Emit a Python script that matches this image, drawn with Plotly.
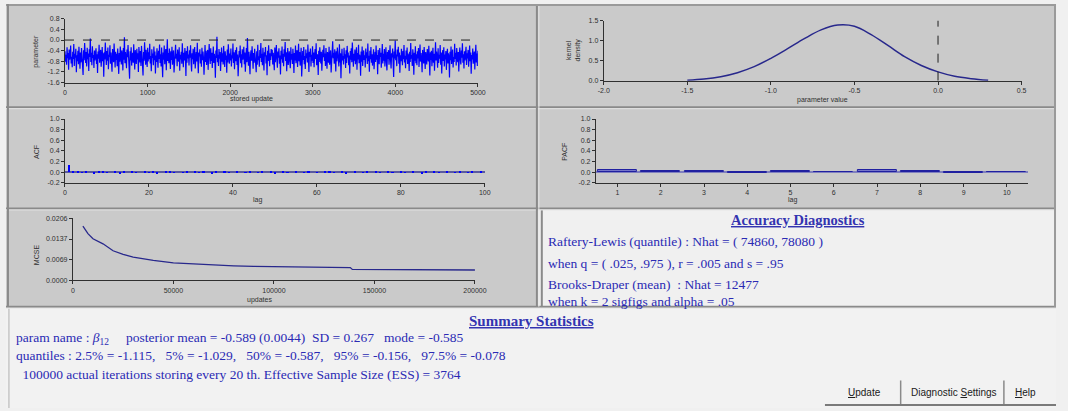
import plotly.graph_objects as go

W, H = 1068, 411

# ---------------- data ----------------
trace_values = [
 -0.42,-0.81,-0.55,-0.93,-0.27,-0.68,-0.49,-1.12,-0.36,-0.74,-0.58,-0.21,-0.88,-0.63,-1.02,-0.44,-0.71,-0.15,-0.97,-0.52,
 -0.66,-0.33,-1.21,-0.57,-0.79,-0.40,-0.91,-0.25,-0.62,-1.08,-0.47,-0.84,-0.30,-0.69,-0.54,-1.31,-0.38,-0.76,-0.11,-0.60,
 -0.86,-0.45,-0.99,-0.29,-0.72,-0.51,-1.16,-0.35,-0.64,0.06,-0.82,-0.48,-0.95,-0.23,-0.67,-0.56,-1.05,-0.39,-0.77,-0.61,
 -0.31,-0.90,-0.53,-1.24,-0.43,-0.70,-0.18,-0.85,-0.59,-0.37,-1.00,-0.65,-0.26,-0.80,-0.50,-1.38,-0.46,-0.73,-0.09,-0.57,
 -0.94,-0.41,-0.78,-0.28,-1.10,-0.55,-0.63,-0.20,-0.89,-0.47,-0.71,-1.19,-0.34,-0.60,-0.83,-0.13,-0.66,-1.03,-0.44,-0.75,
 -0.52,-0.98,-0.32,-0.68,-1.27,-0.49,-0.81,-0.24,-0.62,-0.92,-0.39,-0.58,-1.14,-0.30,-0.74,0.10,-0.87,-0.45,-0.69,-1.06,
 -0.36,-0.64,-0.19,-0.83,-0.54,-1.45,-0.42,-0.77,-0.27,-0.96,-0.61,-0.48,-0.85,-0.16,-0.70,-1.11,-0.38,-0.59,-0.90,-0.33,
 -0.73,-0.50,-1.20,-0.26,-0.66,-0.84,-0.41,-0.97,-0.22,-0.63,-0.55,-1.33,-0.45,-0.78,-0.08,-0.69,-0.93,-0.37,-0.57,-1.01,
 -0.29,-0.80,-0.46,-0.72,-0.14,-0.88,-0.60,-1.17,-0.35,-0.67,-0.51,-0.95,-0.24,-0.76,-0.43,-1.26,-0.58,-0.82,-0.31,-0.65,
 -1.04,-0.40,-0.71,-0.17,-0.86,-0.53,-0.99,-0.28,-0.62,-1.40,-0.47,-0.74,-0.21,-0.91,-0.56,-0.34,-1.13,-0.68,0.03,-0.79,
 -0.49,-0.87,-0.32,-0.64,-1.09,-0.42,-0.75,-0.25,-0.93,-0.58,-0.39,-1.22,-0.61,-0.83,-0.18,-0.70,-0.52,-0.98,-0.36,-0.67,
 -0.81,-0.27,-1.15,-0.55,-0.73,-0.44,-0.89,-0.12,-0.63,-1.02,-0.48,-0.77,-0.30,-0.60,-1.35,-0.41,-0.85,-0.23,-0.69,-0.54,
 -0.96,-0.38,-0.66,-0.20,-0.84,-1.18,-0.50,-0.72,-0.33,-0.91,-0.57,-0.26,-1.07,-0.64,-0.45,-0.80,-0.10,-0.74,-1.25,-0.47,
 -0.62,-0.35,-0.88,-0.53,-1.00,-0.29,-0.76,-0.43,-0.68,-1.30,-0.56,-0.19,-0.82,-0.40,-0.94,-0.61,-0.37,-1.12,-0.71,-0.15,
 -0.58,-0.90,-0.31,-0.79,-0.48,-1.05,-0.65,-0.24,-0.86,-0.52,-0.73,-1.42,-0.39,-0.67,0.12,-0.83,-0.55,-0.97,-0.34,-0.70,
 -0.45,-1.16,-0.60,-0.28,-0.81,-0.50,-0.92,-0.22,-0.66,-1.01,-0.42,-0.75,-0.58,-1.23,-0.36,-0.84,-0.16,-0.63,-0.89,-0.51,
 -0.77,-0.32,-0.99,-0.57,-0.69,-0.13,-0.86,-0.46,-1.10,-0.61,-0.38,-0.80,-0.27,-0.94,-0.54,-1.36,-0.72,-0.41,-0.65,-0.21,
 -0.87,-0.53,-1.03,-0.35,-0.74,-0.60,-0.25,-0.91,-0.47,-1.19,-0.68,-0.30,-0.83,0.08,-0.59,-0.96,-0.44,-0.71,-1.28,-0.56,
 -0.39,-0.78,-0.23,-0.64,-1.08,-0.49,-0.85,-0.33,-0.70,-0.55,-1.21,-0.42,-0.93,-0.18,-0.76,-0.61,-1.00,-0.37,-0.67,-0.11,
 -0.82,-0.52,-0.95,-0.29,-0.73,-1.14,-0.46,-0.62,-0.26,-0.88,-0.57,-1.32,-0.40,-0.79,-0.20,-0.69,-0.98,-0.50,-0.75,-0.34,
 -0.61,-0.37,-0.92,-0.48,-0.70,-1.13,-0.28,-0.83,-0.55,-0.19,-0.76,-1.04,-0.43,-0.66,-0.31,-0.89,-0.58,-1.29,-0.40,-0.72,
 -0.24,-0.85,-0.52,-0.98,-0.35,-0.63,-0.07,-0.79,-0.46,-1.17,-0.59,-0.30,-0.94,-0.68,-0.42,-0.81,-1.06,-0.27,-0.74,-0.53,
 -0.90,-0.33,-0.65,-1.24,-0.49,-0.77,-0.21,-0.87,-0.56,-0.38,-1.01,-0.62,-0.14,-0.80,-0.45,-0.96,-0.69,-0.29,-1.37,-0.57,
 -0.41,-0.75,-0.26,-0.91,-0.60,-1.09,-0.36,-0.68,-0.50,-0.84,-0.17,-0.73,-1.20,-0.44,-0.63,-0.32,-0.99,-0.55,-0.78,-0.23,
 -0.86,-0.47,-1.02,-0.58,-0.34,-0.71,-0.12,-0.95,-0.53,-0.67,-1.31,-0.40,-0.82,-0.27,-0.61,-0.88,-0.44,-1.15,-0.70,-0.37,
 -0.64,-0.20,-0.79,-0.51,-0.97,-0.30,-0.72,-1.08,-0.45,-0.59,-0.85,-0.25,-0.93,-0.62,-0.39,-1.22,-0.54,-0.76,-0.05,-0.68,
 -0.48,-0.89,-0.35,-0.63,-1.18,-0.42,-0.80,-0.28,-0.71,-0.57,-0.99,-0.16,-0.84,-0.50,-1.43,-0.66,-0.33,-0.77,-0.60,-0.92,
 -0.29,-0.70,-0.53,-1.05,-0.38,-0.86,-0.22,-0.65,-0.47,-0.95,-0.58,-1.26,-0.41,-0.74,-0.31,-0.83,-0.09,-0.69,-1.00,-0.52,
 -0.78,-0.36,-0.91,-0.60,-0.27,-1.12,-0.49,-0.73,-0.18,-0.87,-0.55,-0.64,-1.34,-0.43,-0.81,-0.24,-0.97,-0.62,-0.39,-0.75,
 -0.57,-1.03,-0.32,-0.68,-0.46,-0.90,-0.13,-0.79,-0.59,-1.19,-0.40,-0.72,-0.26,-0.85,-0.53,-0.96,-0.66,-0.35,-1.10,-0.61,
 -0.44,-0.82,-0.21,-0.74,-0.56,-1.28,-0.37,-0.67,-0.91,-0.30,-0.63,-0.48,-1.04,-0.70,-0.15,-0.88,-0.52,-0.78,-0.34,-0.99,
 -0.60,-0.27,-0.84,-1.14,-0.45,-0.71,-0.38,-0.93,-0.58,-0.20,-0.77,-1.07,-0.50,-0.65,-0.32,-0.86,-1.39,-0.43,-0.69,-0.02,
 -0.76,-0.54,-0.98,-0.36,-0.62,-0.25,-0.89,-0.47,-1.23,-0.57,-0.80,-0.33,-0.67,-0.95,-0.41,-0.72,-0.19,-0.84,-0.59,-1.06,
 -0.39,-0.73,-0.28,-0.90,-0.51,-0.64,-1.16,-0.44,-0.82,-0.11,-0.70,-0.56,-0.97,-0.35,-0.61,-1.30,-0.48,-0.78,-0.23,-0.87,
 -0.53,-0.95,-0.42,-0.69,-0.30,-1.01,-0.62,-0.17,-0.81,-0.49,-0.74,-1.21,-0.37,-0.66,-0.88,-0.26,-0.58,-1.09,-0.45,-0.71,
 -0.92,-0.34,-0.63,-0.80,-0.22,-0.57,-1.33,-0.46,-0.75,-0.40,-0.98,-0.60,-0.29,-0.85,-0.52,-1.15,-0.68,-0.08,-0.77,-0.43,
 -0.65,-1.04,-0.31,-0.86,-0.55,-0.70,-0.19,-0.93,-0.47,-1.26,-0.61,-0.38,-0.79,-0.27,-0.99,-0.54,-0.73,-0.41,-1.12,-0.58,
 -0.33,-0.88,-0.50,-0.67,-1.41,-0.44,-0.76,-0.24,-0.90,-0.59,-0.36,-1.03,-0.64,-0.82,-0.14,-0.71,-0.48,-0.96,-0.30,-0.62,
 -0.83,-0.45,-1.18,-0.57,-0.28,-0.74,-0.92,-0.39,-0.66,-0.12,-0.85,-0.53,-1.07,-0.42,-0.77,-0.60,-0.25,-0.94,-0.50,-0.69,
 -0.37,-1.00,-0.63,-0.21,-0.80,-0.47,-1.27,-0.56,-0.73,-0.32,-0.89,-0.65,-0.43,-1.11,-0.58,-0.18,-0.84,-0.51,-0.97,-0.40,
]
stored_updates_total = 5000
trace_ref_line = 0.0

density_x = [-1.5,-1.4,-1.3,-1.2,-1.1,-1.0,-0.9,-0.8,-0.7,-0.6,-0.5,-0.4,-0.3,-0.2,-0.1,0.0,0.1,0.2,0.3]
density_y = [0.01,0.04,0.10,0.20,0.35,0.56,0.80,1.05,1.27,1.39,1.36,1.15,0.88,0.60,0.38,0.22,0.11,0.05,0.01]
density_ref_line = 0.0

acf_lags = list(range(1, 101))
acf_values = [
 0.13,0.03,0.01,-0.01,0.02,0.00,-0.02,0.01,0.02,-0.01,0.00,0.01,-0.02,0.01,0.00,0.02,-0.01,0.00,0.01,-0.01,
 0.01,-0.02,0.00,0.01,0.02,-0.01,0.00,-0.01,0.01,0.00,0.02,-0.01,0.01,0.00,-0.02,0.01,0.00,0.01,-0.01,0.00,
 0.01,0.00,-0.01,0.02,0.00,-0.01,0.01,0.00,0.01,-0.02,0.00,0.01,-0.01,0.00,0.02,0.00,-0.01,0.01,0.00,-0.01,
 0.00,0.01,0.02,-0.01,0.00,0.01,-0.02,0.00,0.01,0.00,-0.01,0.01,0.00,0.02,-0.01,0.00,0.01,-0.01,0.00,0.01,
 -0.01,0.00,0.01,0.00,-0.02,0.01,0.00,0.01,-0.01,0.00,0.02,0.00,-0.01,0.01,0.00,-0.01,0.01,0.00,0.01,0.00,
]

pacf_lags = [1,2,3,4,5,6,7,8,9,10]
pacf_values = [0.05,0.02,0.02,-0.01,0.02,0.00,0.04,0.02,-0.01,0.01]

mcse_updates = [5000,7500,10000,15000,20000,25000,30000,40000,50000,60000,70000,80000,90000,100000,120000,138000,139000,160000,180000,200000]
mcse_values = [0.0180,0.0155,0.0138,0.0121,0.0098,0.0086,0.0077,0.0066,0.0058,0.0054,0.0051,0.0048,0.0046,0.0045,0.0043,0.0042,0.0036,0.0035,0.0035,0.0034]

trace_yticks = [0.8,0.4,0.0,-0.4,-0.8,-1.2,-1.6]
trace_xticks = [0,1000,2000,3000,4000,5000]
dens_xticks = [-2.0,-1.5,-1.0,-0.5,0.0,0.5]
dens_yticks = [0.0,0.5,1.0,1.5]
acf_yticks = [1.0,0.8,0.6,0.4,0.2,0.0,-0.2]
acf_xticks = [0,20,40,60,80,100]
mcse_xticks = [0,50000,100000,150000,200000]
mcse_yticks = [0.0,0.0069,0.0137,0.0206]
mcse_yticklabels = ["0.0000","0.0069","0.0137","0.0206"]

accuracy_lines = [
 "Raftery-Lewis (quantile) : Nhat = ( 74860, 78080 )",
 "when q = ( .025, .975 ), r = .005 and s = .95",
 "Brooks-Draper (mean)  : Nhat = 12477",
 "when k = 2 sigfigs and alpha = .05",
]
summary_lines = [
 "param name : <i>β</i><sub>12</sub>     posterior mean = -0.589 (0.0044)  SD = 0.267   mode = -0.585",
 "quantiles : 2.5% = -1.115,   5% = -1.029,   50% = -0.587,   95% = -0.156,   97.5% = -0.078",
 " 100000 actual iterations storing every 20 th. Effective Sample Size (ESS) = 3764",
]
buttons = ["<u>U</u>pdate", "Diagnostic <u>S</u>ettings", "<u>H</u>elp"]

# ---------------- helpers ----------------
def px(x):
    return x / W

def py(y):
    return 1 - y / H

n = len(trace_values)
trace_x = [i * stored_updates_total / (n - 1) for i in range(n)]

BLUE = "#0000ff"
AX = "#303030"
tickfont = dict(family="Liberation Sans", size=7, color="#303030")

def axis(domain, rng, tickvals, ticktext=None, anchor=None, zeroline=False):
    d = dict(domain=domain, range=rng, tickvals=tickvals, showgrid=False,
             showline=True, linecolor=AX, linewidth=1, ticks="outside",
             ticklen=3, tickcolor=AX, tickfont=tickfont, zeroline=zeroline,
             anchor=anchor, fixedrange=True)
    if ticktext is not None:
        d["ticktext"] = ticktext
    return d

fig = go.Figure()

fig.add_trace(go.Scatter(x=trace_x, y=trace_values, mode="lines",
                         line=dict(color=BLUE, width=1.2), xaxis="x", yaxis="y"))
fig.add_trace(go.Scatter(x=density_x, y=density_y, mode="lines", line_shape="spline",
                         line=dict(color="#28288c", width=1.5), xaxis="x2", yaxis="y2"))
fig.add_trace(go.Bar(x=acf_lags, y=acf_values, width=0.5, marker_color=BLUE,
                     marker_line_width=0, xaxis="x3", yaxis="y3"))
fig.add_trace(go.Bar(x=pacf_lags, y=pacf_values, width=0.9,
                     marker=dict(color="rgba(60,60,200,0.6)", line=dict(color="#2020a0", width=1)),
                     xaxis="x4", yaxis="y4"))
fig.add_trace(go.Scatter(x=mcse_updates, y=mcse_values, mode="lines",
                         line=dict(color="#28288c", width=1.3), xaxis="x5", yaxis="y5"))

layout = dict(
    autosize=True, margin=dict(l=0, r=0, t=0, b=0),
    paper_bgcolor="#f0f0f0", plot_bgcolor="rgba(0,0,0,0)", showlegend=False,
    bargap=0,
    xaxis=axis([px(60), px(480)], [0, 5000], trace_xticks,
               [str(v) for v in trace_xticks], anchor="y"),
    yaxis=axis([py(80), py(15)], [-1.6, 0.8], trace_yticks,
               [f"{v:.1f}" for v in trace_yticks], anchor="x"),
    xaxis2=axis([px(608), px(1033)], [-2.0, 0.5], dens_xticks,
                [f"{v:.1f}" for v in dens_xticks], anchor="y2"),
    yaxis2=axis([py(78), py(17)], [0, 1.5], dens_yticks,
                [f"{v:.1f}" for v in dens_yticks], anchor="x2"),
    xaxis3=axis([px(60), px(487)], [0, 100], acf_xticks,
                [str(v) for v in acf_xticks], anchor="y3"),
    yaxis3=axis([py(182), py(117)], [-0.2, 1.0], acf_yticks,
                [f"{v:.1f}" for v in acf_yticks], anchor="x3", zeroline=True),
    xaxis4=axis([px(600), px(1040)], [0.5, 10.5], pacf_lags,
                [str(v) for v in pacf_lags], anchor="y4"),
    yaxis4=axis([py(182), py(117)], [-0.2, 1.0], acf_yticks,
                [f"{v:.1f}" for v in acf_yticks], anchor="x4", zeroline=True),
    xaxis5=axis([px(68), px(477)], [0, 200000], mcse_xticks,
                [str(v) for v in mcse_xticks], anchor="y5"),
    yaxis5=axis([py(281), py(218)], [0, 0.0206], mcse_yticks, mcse_yticklabels, anchor="x5"),
)
layout["yaxis3"]["zerolinecolor"] = "#5a5aa0"
layout["yaxis4"]["zerolinecolor"] = "#8080c0"
fig.update_layout(**layout)

# ---------------- panel backgrounds & borders ----------------
shapes = []
def rect(x0, y0, x1, y1, fill):
    shapes.append(dict(type="rect", xref="paper", yref="paper", x0=px(x0), x1=px(x1),
                       y0=py(y1), y1=py(y0), fillcolor=fill,
                       line=dict(width=0), layer="below"))

def seg(x0, y0, x1, y1, color, width=1):
    shapes.append(dict(type="line", xref="paper", yref="paper", x0=px(x0), x1=px(x1),
                       y0=py(y0), y1=py(y1), line=dict(color=color, width=width),
                       layer="above"))

GRAY = "#cacaca"
rect(0, 0, 540, 105, GRAY)
rect(540, 0, 1068, 105, GRAY)
rect(0, 105, 540, 208, GRAY)
rect(540, 105, 1068, 208, GRAY)
rect(0, 208, 540, 308, GRAY)
rect(540, 208, 1068, 308, "#f0f0f0")
rect(0, 308, 1068, 411, "#f2f2f2")

for yy in (105, 208, 308):
    seg(0, yy, 1068, yy, "#8a8a8a", 2)
    seg(0, yy + 1.5, 1068, yy + 1.5, "#e6e6e6", 1)
seg(540, 0, 540, 308, "#8a8a8a", 2)
seg(542, 0, 542, 308, "#e6e6e6", 1)
seg(0, 1, 1068, 1, "#9a9a9a", 2)
seg(2, 0, 2, 308, "#8a8a8a", 2)
seg(1067, 0, 1067, 308, "#9a9a9a", 2)
seg(545, 210, 545, 308, "#8a8a8a", 2)
seg(3, 310, 3, 411, "#b0b0b0", 1)

# buttons
seg(833, 408, 1068, 408, "#7a7a7a", 2)
seg(910, 383, 910, 407, "#8a8a8a", 1.5)
seg(1015, 383, 1015, 407, "#8a8a8a", 1.5)

# reference lines (data coords)
shapes.append(dict(type="line", xref="x", yref="y", x0=0, x1=stored_updates_total,
                   y0=trace_ref_line, y1=trace_ref_line,
                   line=dict(color="#202020", width=1, dash="dash"), layer="above"))
shapes.append(dict(type="line", xref="x2", yref="y2", x0=density_ref_line, x1=density_ref_line,
                   y0=0, y1=1.55, line=dict(color="#202020", width=1, dash="dash"), layer="above"))
fig.update_layout(shapes=shapes)

# ---------------- annotations ----------------
ann = []
def text(x, y, s, size=7, color="#303030", family="Liberation Sans", xanchor="center",
         angle=0, yanchor="middle"):
    ann.append(dict(x=px(x), y=py(y), xref="paper", yref="paper", text=s, showarrow=False,
                    xanchor=xanchor, yanchor=yanchor, textangle=angle,
                    font=dict(size=size, color=color, family=family)))

text(31, 48, "parameter", angle=-90)
text(250, 97, "stored update")
text(577, 47, "kernel<br>density", angle=-90)
text(830, 98, "parameter value")
text(31, 150, "ACF", angle=-90)
text(256, 199, "lag")
text(568, 150, "PACF", angle=-90)
text(800, 199, "lag")
text(31, 255, "MCSE", angle=-90)
text(258, 301, "updates")

TXT = "#2a2ab4"
SERIF = "Liberation Serif"
text(806, 220, "<b><u>Accuracy Diagnostics</u></b>", size=14.5, color="#3333b0", family=SERIF)
for s, yy in zip(accuracy_lines, [242, 264, 285, 303]):
    text(549, yy, s, size=13.5, color=TXT, family=SERIF, xanchor="left")

text(534, 323, "<b><u>Summary Statistics</u></b>", size=15, color="#3333b0", family=SERIF)
for s, yy, xx in zip(summary_lines, [340, 358, 377], [8, 8, 11]):
    text(xx, yy, s, size=13.5, color=TXT, family=SERIF, xanchor="left")

for s, xx in zip(buttons, [873, 964, 1037]):
    text(xx, 395, s, size=10, color="#202020", family="Liberation Sans")

fig.update_layout(annotations=ann)

# the figure fills the whole browser window (positions are fractions of the page)
fig.write_html("out.html", config={"displayModeBar": False, "responsive": True},
               default_width="100%", default_height="100%")

with open("out.html", encoding="utf-8") as f:
    html = f.read()
css = ("<style>html,body{margin:0;padding:0;overflow:hidden;width:100%;height:100%;"
       "background:#f0f0f0;}body>div{width:100%;height:100%;}</style>")
html = html.replace("<head>", "<head>" + css, 1)
with open("out.html", "w", encoding="utf-8") as f:
    f.write(html)
